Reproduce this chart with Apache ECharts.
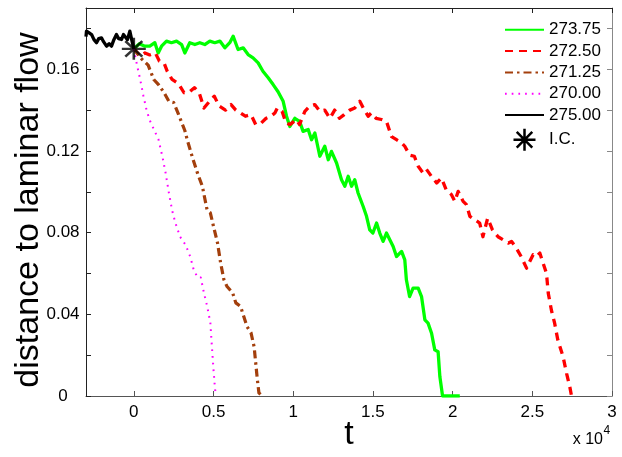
<!DOCTYPE html>
<html><head><meta charset="utf-8">
<script src="https://cdn.jsdelivr.net/npm/echarts@6/dist/echarts.min.js"></script>
<style>html,body{margin:0;padding:0;background:#fff}#c{width:622px;height:457px}</style>
</head><body><div id="c"></div>
<script>
// t values are in units of 10^4
const xTicks = [0, 0.5, 1, 1.5, 2, 2.5, 3];
const yTicks = [0, 0.02, 0.04, 0.06, 0.08, 0.1, 0.12, 0.14, 0.16, 0.18];
const yLabelValues = [0, 0.04, 0.08, 0.12, 0.16];
const seriesNames = ['273.75', '272.50', '271.25', '270.00', '275.00', 'I.C.'];

const icT = [0];
const icV = [0.170];

const tBlack = [-0.300,-0.297,-0.280,-0.265,-0.250,-0.234,-0.220,-0.203,-0.190,-0.171,-0.155,-0.140,-0.125,-0.109,-0.095,-0.077,-0.065,-0.056,-0.040,-0.025,-0.012,0];
const vBlack = [0.1760,0.1787,0.1778,0.1770,0.1745,0.1730,0.1750,0.1754,0.1735,0.1713,0.1725,0.1713,0.1745,0.1770,0.1750,0.1746,0.1770,0.1762,0.1745,0.1787,0.1740,0.1700];

const tGreen = [0,0.035,0.069,0.100,0.132,0.153,0.174,0.205,0.236,0.268,0.300,0.320,0.351,0.383,0.414,0.445,0.477,0.508,0.540,0.571,0.602,0.623,0.654,0.686,0.717,0.748,0.780,0.810,0.843,0.874,0.905,0.937,0.958,0.979,1.010,1.040,1.062,1.094,1.115,1.136,1.167,1.198,1.220,1.240,1.272,1.303,1.324,1.345,1.366,1.386,1.407,1.439,1.460,1.480,1.500,1.523,1.543,1.564,1.585,1.606,1.627,1.648,1.680,1.700,1.710,1.730,1.752,1.784,1.805,1.826,1.846,1.868,1.888,1.909,1.920,1.937,2.045];
const vGreen = [0.1700,0.1725,0.1713,0.1713,0.1730,0.1680,0.1713,0.1738,0.1730,0.1738,0.1721,0.1680,0.1730,0.1721,0.1730,0.1721,0.1738,0.1730,0.1738,0.1705,0.1730,0.1762,0.1697,0.1705,0.1672,0.1656,0.1631,0.1590,0.1558,0.1525,0.1490,0.1443,0.1370,0.1320,0.1360,0.1345,0.1296,0.1305,0.1255,0.1288,0.1174,0.1223,0.1157,0.1198,0.1141,0.1059,0.1027,0.1076,0.1027,0.1059,0.0994,0.0928,0.0880,0.0814,0.0798,0.0847,0.0798,0.0757,0.0798,0.0765,0.0732,0.0683,0.0708,0.0667,0.0569,0.0487,0.0528,0.0528,0.0487,0.0373,0.0357,0.0307,0.0226,0.0217,0.0095,0,0];

const tRed = [0,0.040,0.070,0.100,0.135,0.160,0.190,0.210,0.240,0.280,0.315,0.350,0.380,0.410,0.440,0.475,0.505,0.535,0.575,0.610,0.640,0.670,0.700,0.735,0.765,0.800,0.830,0.860,0.885,0.900,0.930,0.955,0.979,1.020,1.040,1.073,1.104,1.135,1.167,1.198,1.230,1.260,1.290,1.320,1.355,1.386,1.418,1.440,1.470,1.490,1.520,1.554,1.585,1.617,1.648,1.680,1.700,1.730,1.760,1.784,1.815,1.836,1.868,1.900,1.930,1.960,1.993,2.014,2.035,2.066,2.087,2.108,2.140,2.170,2.190,2.220,2.250,2.285,2.317,2.350,2.370,2.400,2.430,2.464,2.484,2.505,2.526,2.547,2.568,2.589,2.600,2.620,2.640,2.660,2.693,2.715,2.735,2.746,2.770];
const vRed = [0.1700,0.1664,0.1680,0.1670,0.1680,0.1640,0.1630,0.1590,0.1550,0.1530,0.1485,0.1490,0.1510,0.1485,0.1410,0.1443,0.1468,0.1420,0.1400,0.1427,0.1400,0.1386,0.1370,0.1378,0.1329,0.1337,0.1360,0.1370,0.1386,0.1410,0.1394,0.1337,0.1329,0.1354,0.1329,0.1394,0.1420,0.1427,0.1394,0.1400,0.1360,0.1400,0.1360,0.1378,0.1400,0.1410,0.1443,0.1410,0.1370,0.1386,0.1360,0.1354,0.1345,0.1270,0.1255,0.1240,0.1223,0.1180,0.1174,0.1125,0.1092,0.1110,0.1075,0.1043,0.1067,0.1010,0.0986,0.0953,0.1002,0.0953,0.0937,0.0880,0.0863,0.0847,0.0780,0.0871,0.0814,0.0780,0.0765,0.0749,0.0757,0.0724,0.0683,0.0626,0.0659,0.0692,0.0683,0.0700,0.0650,0.0600,0.0504,0.0420,0.0357,0.0275,0.0193,0.0111,0.0046,0,0];

const tBrown = [0,0.050,0.090,0.125,0.155,0.190,0.220,0.250,0.280,0.320,0.335,0.367,0.400,0.430,0.460,0.480,0.505,0.525,0.545,0.565,0.585,0.620,0.640,0.670,0.690,0.710,0.735,0.755,0.765,0.775,0.785,0.805];
const vBrown = [0.1700,0.1650,0.1620,0.1550,0.1525,0.1485,0.1443,0.1437,0.1380,0.1300,0.1255,0.1170,0.1090,0.1027,0.0910,0.0897,0.0814,0.0750,0.0650,0.0570,0.0536,0.0505,0.0456,0.0438,0.0389,0.0340,0.0310,0.0240,0.0160,0.0080,0.0015,0];

const tMagenta = [0,0.020,0.040,0.060,0.080,0.100,0.135,0.155,0.180,0.200,0.220,0.240,0.260,0.290,0.325,0.355,0.375,0.400,0.420,0.440,0.460,0.480,0.490,0.500,0.510,0.520];
const vMagenta = [0.1700,0.1620,0.1550,0.1470,0.1400,0.1350,0.1290,0.1255,0.1170,0.1090,0.0995,0.0910,0.0850,0.0780,0.0740,0.0680,0.0620,0.0580,0.0580,0.0505,0.0440,0.0360,0.0240,0.0128,0.0030,0];

function pairs(t, v) { return t.map((x, i) => [x, v[i]]); }

const FONT = 'Liberation Sans, Arial, Helvetica, sans-serif';
const starPath = 'path://M0 -10L0 10M-10 0L10 0M-7.07 -7.07L7.07 7.07M-7.07 7.07L7.07 -7.07';

function lineSeries(name, t, v, color, width, type, z) {
  return {
    name: name, type: 'line', data: pairs(t, v), symbol: 'none', showSymbol: false,
    lineStyle: { color: color, width: width, type: type, cap: 'butt', join: 'round' },
    itemStyle: { color: color }, z: z, silent: true
  };
}

const chart = echarts.init(document.getElementById('c'), null, { renderer: 'canvas' });
const axisCommonX = { type: 'value', min: -0.3, max: 3, splitLine: { show: false } };
const axisCommonY = { type: 'value', min: 0, max: 0.19, splitLine: { show: false } };
const hiddenSym = { opacity: 0 };
chart.setOption({
  animation: false,
  backgroundColor: '#fff',
  grid: { left: 86, right: 10, top: 8, bottom: 61, containLabel: false, outerBoundsMode: 'none' },
  xAxis: [
    Object.assign({}, axisCommonX, {
      position: 'bottom',
      axisLine: { onZero: false, lineStyle: { color: '#555', width: 1 } },
      axisTick: { inside: true, length: 5, customValues: xTicks, lineStyle: { color: '#555' } },
      axisLabel: { customValues: xTicks, formatter: v => String(v), fontSize: 17, color: '#000', margin: 8, fontFamily: FONT }
    }),
    Object.assign({}, axisCommonX, {
      position: 'top',
      axisLine: { onZero: false, lineStyle: { color: '#222', width: 1 } },
      axisTick: { inside: true, length: 5, customValues: xTicks, lineStyle: { color: '#222' } },
      axisLabel: { show: false }
    })
  ],
  yAxis: [
    Object.assign({}, axisCommonY, {
      position: 'left',
      axisLine: { show: true, onZero: false, lineStyle: { color: '#222', width: 1 } },
      axisTick: { show: true, inside: true, length: 5, customValues: yTicks, lineStyle: { color: '#222' } },
      axisLabel: { customValues: yLabelValues, formatter: v => (v === 0 ? '0' : v.toFixed(2)), fontSize: 17, color: '#000', margin: 23, align: 'center', fontFamily: FONT }
    }),
    Object.assign({}, axisCommonY, {
      position: 'right',
      axisLine: { show: true, onZero: false, lineStyle: { color: '#888', width: 1 } },
      axisTick: { show: true, inside: true, length: 5, customValues: yTicks, lineStyle: { color: '#888' } },
      axisLabel: { show: false }
    })
  ],
  legend: {
    orient: 'vertical', left: 504, top: 21, padding: 0,
    itemWidth: 39, itemHeight: 22, itemGap: 3.7,
    selectedMode: false,
    textStyle: { fontSize: 17, color: '#000', fontFamily: FONT, lineHeight: 17 },
    data: [
      { name: seriesNames[0], itemStyle: hiddenSym },
      { name: seriesNames[1], itemStyle: hiddenSym },
      { name: seriesNames[2], itemStyle: hiddenSym },
      { name: seriesNames[3], itemStyle: hiddenSym },
      { name: seriesNames[4], itemStyle: hiddenSym },
      { name: seriesNames[5], itemStyle: { opacity: 1, color: 'rgba(0,0,0,0)', borderColor: '#000', borderWidth: 2.5 } }
    ]
  },
  graphic: [
    { type: 'text', x: 29, y: 210, rotation: Math.PI / 2, silent: true,
      style: { text: 'distance to laminar flow', fontSize: 34, fontFamily: FONT, fill: '#000', align: 'center', verticalAlign: 'middle' } },
    { type: 'text', x: 349, y: 435, silent: true,
      style: { text: 't', fontSize: 34, fontFamily: FONT, fill: '#000', align: 'center', verticalAlign: 'middle' } },
    { type: 'text', x: 603, y: 440, silent: true,
      style: { text: 'x 10', fontSize: 16, fontFamily: FONT, fill: '#000', align: 'right', verticalAlign: 'middle' } },
    { type: 'text', x: 603.5, y: 431, silent: true,
      style: { text: '4', fontSize: 12, fontFamily: FONT, fill: '#000', align: 'left', verticalAlign: 'middle' } }
  ],
  series: [
    lineSeries(seriesNames[0], tGreen, vGreen, '#00ff00', 3.3, 'solid', 2),
    lineSeries(seriesNames[1], tRed, vRed, '#ff0000', 3.3, [8, 6], 3),
    lineSeries(seriesNames[2], tBrown, vBrown, '#a33f0c', 3.2, [8, 4, 2.5, 4], 4),
    lineSeries(seriesNames[3], tMagenta, vMagenta, '#ff00ff', 2, [1.7, 5], 5),
    lineSeries(seriesNames[4], tBlack, vBlack, '#000000', 3.3, 'solid', 6),
    {
      name: seriesNames[5], type: 'scatter', data: pairs(icT, icV),
      symbol: starPath, symbolSize: [24, 22], symbolKeepAspect: true,
      itemStyle: { color: 'rgba(0,0,0,0)', borderColor: '#000', borderWidth: 2.5 },
      z: 10, silent: true
    }
  ]
});
</script>
</body></html>
